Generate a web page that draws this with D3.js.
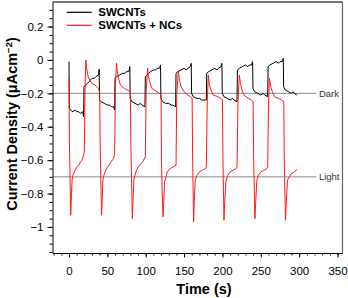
<!DOCTYPE html>
<html><head><meta charset="utf-8">
<script src="https://cdn.jsdelivr.net/npm/d3@7"></script>
<style>body{margin:0;background:#fff}svg{display:block}text{font-family:Arial,"Liberation Sans",Helvetica,sans-serif}</style>
</head><body><svg id="c" width="348" height="298"></svg>
<script>
// ---- data ----
const seriesNames = ["SWCNTs", "SWCNTs + NCs"];
const seriesColors = ["#000000", "#ff1a1a"];

const blackTime = [0,0.5,2,5,8,10,13,15,18,19,19.5,22,24,26,30,33,35,38.5,39.3,39.8,42,46,50,53,55,58,59.5,
 60,62,66,70,73,75,78,79.3,79.8,82,86,90,93,95,99,99.5,102,106,110,113,115,118,119.3,119.8,122,126,130,133,135,139,
 139.5,142,146,150,153,155,158,159.3,159.8,162,166,170,173,175,179,179.5,182,186,190,193,195,198,199.3,199.8,202,206,210,213,215,219,
 219.5,222,226,230,233,235,238,239.3,239.8,242,246,250,253,255,259,259.5,262,266,270,273,275,278,279.3,279.8,282,286,290,292,294,297];
const blackCurrent = [-0.01,-0.29,-0.30,-0.31,-0.30,-0.31,-0.31,-0.32,-0.31,-0.34,-0.16,-0.15,-0.14,-0.13,-0.11,-0.11,-0.10,-0.09,-0.055,-0.24,-0.25,-0.26,-0.27,-0.27,-0.28,-0.28,-0.30,
 -0.11,-0.10,-0.09,-0.08,-0.08,-0.07,-0.07,-0.04,-0.23,-0.25,-0.26,-0.27,-0.26,-0.27,-0.28,-0.10,-0.09,-0.07,-0.06,-0.06,-0.05,-0.05,-0.03,-0.23,-0.25,-0.26,-0.26,-0.27,-0.27,-0.28,
 -0.08,-0.07,-0.06,-0.05,-0.06,-0.05,-0.04,-0.02,-0.20,-0.22,-0.23,-0.23,-0.24,-0.24,-0.24,-0.08,-0.07,-0.06,-0.05,-0.06,-0.05,-0.04,-0.02,-0.20,-0.22,-0.23,-0.24,-0.23,-0.24,-0.25,
 -0.06,-0.05,-0.04,-0.03,-0.04,-0.03,-0.03,-0.01,-0.17,-0.19,-0.20,-0.21,-0.20,-0.21,-0.22,-0.04,-0.03,-0.02,-0.01,-0.02,-0.01,-0.01,0.01,-0.16,-0.18,-0.19,-0.20,-0.19,-0.20,-0.21];

const redTime = [0,0.6,2.2,3,4,5,7,10,13,15,17,19,20,
 21,22,23,25,27,29.5,34,38,40,
 40.6,42.4,43.2,44.2,45.5,48,52,55,58,59.5,
 60.5,62,63,64.5,67,72,76,80,
 80.6,82.6,83.4,84.5,86,88,92,96,99.5,
 100.5,102.5,103.5,105,108,114,118,120,
 120.5,121.5,122.6,123.4,124.5,126,128,132,136,139.5,
 140.5,142.5,144,146,150,155,158,160.5,
 161.2,162.4,163.2,164.5,167,170,174,178,179,
 180.2,181.6,183,185,188,194,198,200,
 200.7,202,203,204.5,207,210,214,218,219,
 220.3,222,223.5,225.5,228,234,238,240,
 240.7,242.4,243.4,244.8,247,250,254,258,259,
 260,261.2,263,265,268,273,277,280,
 280.6,282.2,283.2,284.8,287,290,294,297];
const redCurrent = [-0.11,-0.5,-0.93,-0.84,-0.72,-0.69,-0.67,-0.64,-0.63,-0.61,-0.60,-0.57,-0.55,
 -0.15,0.0,-0.05,-0.10,-0.12,-0.14,-0.15,-0.17,-0.19,
 -0.5,-0.93,-0.84,-0.72,-0.69,-0.66,-0.63,-0.61,-0.59,-0.56,
 -0.15,-0.02,-0.07,-0.11,-0.15,-0.17,-0.18,-0.19,
 -0.5,-0.95,-0.85,-0.72,-0.69,-0.66,-0.63,-0.61,-0.58,
 -0.2,-0.05,-0.10,-0.13,-0.17,-0.19,-0.20,-0.21,
 -0.6,-0.80,-0.94,-0.86,-0.73,-0.71,-0.67,-0.65,-0.64,-0.63,
 -0.2,-0.07,-0.12,-0.16,-0.19,-0.21,-0.22,-0.23,
 -0.6,-0.97,-0.86,-0.72,-0.69,-0.67,-0.66,-0.65,-0.64,
 -0.25,-0.09,-0.15,-0.18,-0.21,-0.22,-0.23,-0.24,
 -0.6,-0.96,-0.85,-0.73,-0.69,-0.67,-0.66,-0.65,-0.64,
 -0.25,-0.09,-0.14,-0.18,-0.21,-0.23,-0.24,-0.25,
 -0.6,-0.95,-0.85,-0.72,-0.69,-0.67,-0.66,-0.65,-0.64,
 -0.3,-0.11,-0.16,-0.19,-0.22,-0.23,-0.24,-0.25,
 -0.6,-0.96,-0.85,-0.72,-0.70,-0.68,-0.67,-0.655];

const xMajorTicks = [0,50,100,150,200,250,300,350];
const xMinorTicks = [-20,-10,0,10,20,30,40,50,60,70,80,90,100,110,120,130,140,150,160,170,180,190,200,210,220,230,240,250,260,270,280,290,300,310,320,330,340,350];
const yMajorTicks = [-1,-0.8,-0.6,-0.4,-0.2,0,0.2];
const yMinorTicks = [-1.15,-1.1,-1.05,-1,-0.95,-0.9,-0.85,-0.8,-0.75,-0.7,-0.65,-0.6,-0.55,-0.5,-0.45,-0.4,-0.35,-0.3,-0.25,-0.2,-0.15,-0.1,-0.05,0,0.05,0.1,0.15,0.2,0.25,0.3];
const refLevels = [-0.2, -0.7];
const refLabels = ["Dark", "Light"];
const refEnd = 322.5;
const xTitle = "Time (s)";

// ---- layout ----
const L = 52.5, R = 342.5, T = 2, B = 253;
const svg = d3.select("#c");
const x = d3.scaleLinear().domain([-21.5, 356.5]).range([L, R]);
const y = d3.scaleLinear().domain([-1.156, 0.347]).range([B, T]);
const fmt = v => (v < 0 ? "\u2212" : "") + Math.abs(+v.toFixed(1));

// frame (top + right)
svg.append("line").attr("x1", L).attr("x2", R).attr("y1", T).attr("y2", T).attr("stroke", "#777").attr("stroke-width", 2);
svg.append("line").attr("x1", R).attr("x2", R).attr("y1", T).attr("y2", B).attr("stroke", "#666").attr("stroke-width", 1.2);

// reference lines
refLevels.forEach((lv, i) => {
  svg.append("line").attr("x1", L).attr("x2", x(refEnd)).attr("y1", y(lv)).attr("y2", y(lv))
    .attr("stroke", "#8c8c8c").attr("stroke-width", 1);
  svg.append("text").attr("x", x(refEnd) + 2.5).attr("y", y(lv)).attr("dy", "0.36em")
    .attr("font-size", 9.5).attr("fill", "#333").text(refLabels[i]);
});

// series
const line = d3.line().x(d => x(d[0])).y(d => y(d[1]));
const blackData = blackTime.map((t, i) => [t, blackCurrent[i]]);
const redData = redTime.map((t, i) => [t, redCurrent[i]]);
svg.append("path").datum(blackData).attr("d", line).attr("fill", "none").attr("stroke", seriesColors[0]).attr("stroke-width", 1).attr("stroke-linejoin", "round");
svg.append("path").datum(redData).attr("d", line).attr("fill", "none").attr("stroke", seriesColors[1]).attr("stroke-width", 1).attr("stroke-linejoin", "round");

// axes
const gx = svg.append("g").attr("transform", `translate(0,${B})`);
gx.call(d3.axisBottom(x).tickValues(xMinorTicks).tickSize(2.5).tickSizeOuter(0).tickFormat(""));
gx.append("g").call(d3.axisBottom(x).tickValues(xMajorTicks).tickSize(4.5).tickSizeOuter(0).tickPadding(9.5).tickFormat(fmt));
const gy = svg.append("g").attr("transform", `translate(${L},0)`);
gy.call(d3.axisLeft(y).tickValues(yMinorTicks).tickSize(3).tickSizeOuter(0).tickFormat(""));
gy.append("g").call(d3.axisLeft(y).tickValues(yMajorTicks).tickSize(5).tickSizeOuter(0).tickPadding(4).tickFormat(fmt));
svg.selectAll(".domain").attr("stroke", "#000");
svg.selectAll("g g .domain").remove();
svg.selectAll(".tick text").attr("font-size", 11.5).attr("font-family", "Arial, 'Liberation Sans', sans-serif").attr("fill", "#000");
svg.selectAll(".tick line").attr("stroke", "#000");

// axis titles
svg.append("text").attr("x", 204).attr("y", 294).attr("text-anchor", "middle")
  .attr("font-size", 14.5).attr("font-weight", "bold").text(xTitle);
const yt = svg.append("text").attr("transform", "translate(16.5,124) rotate(-90)").attr("text-anchor", "middle")
  .attr("font-size", 14.5).attr("font-weight", "bold");
yt.append("tspan").text("Current Density (\u03bcAcm");
yt.append("tspan").attr("font-size", 9.5).attr("dy", -5).text("\u22122");
yt.append("tspan").attr("dy", 5).text(")");

// legend
seriesNames.forEach((n, i) => {
  const ly = 12.3 + i * 13;
  svg.append("line").attr("x1", 66.7).attr("x2", 91.7).attr("y1", ly).attr("y2", ly)
    .attr("stroke", seriesColors[i]).attr("stroke-width", 1.2);
  svg.append("text").attr("x", 98.3).attr("y", ly).attr("dy", "0.36em")
    .attr("font-size", 11.5).attr("font-weight", "bold").text(n);
});
</script></body></html>
